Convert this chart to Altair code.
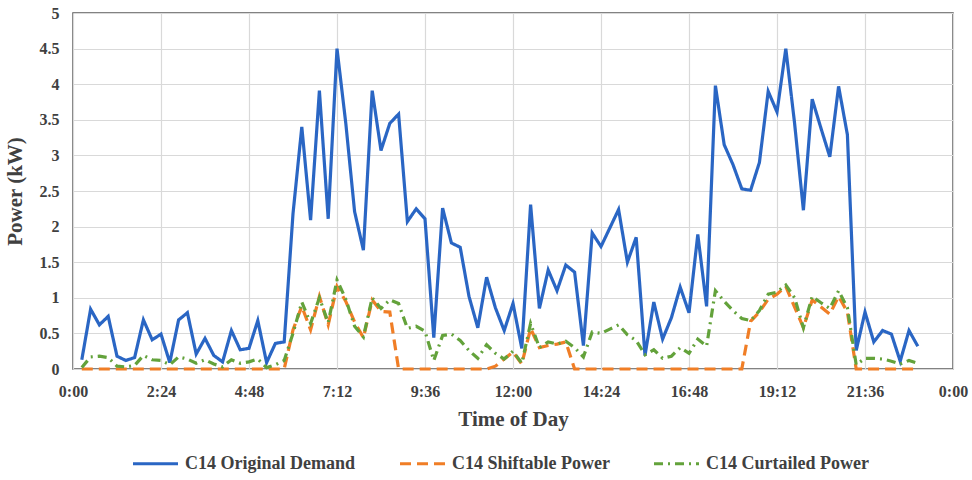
import altair as alt
import pandas as pd

# time of each reading (hours), 96 readings
hours = [round(i * 0.24, 2) for i in range(1, 97)]

original = [0.13, 0.84, 0.62, 0.74, 0.18, 0.12, 0.16, 0.69, 0.41, 0.49, 0.09, 0.69,
            0.79, 0.21, 0.43, 0.19, 0.10, 0.54, 0.27, 0.29, 0.68, 0.09, 0.36, 0.38,
            2.18, 3.40, 2.09, 3.91, 2.11, 4.50, 3.45, 2.21, 1.67, 3.91, 3.07, 3.45,
            3.58, 2.07, 2.25, 2.11, 0.44, 2.26, 1.77, 1.71, 1.02, 0.58, 1.29, 0.86,
            0.54, 0.92, 0.29, 2.31, 0.85, 1.39, 1.10, 1.46, 1.36, 0.33, 1.91, 1.72,
            1.98, 2.24, 1.50, 1.85, 0.19, 0.94, 0.42, 0.72, 1.15, 0.79, 1.89, 0.88,
            3.98, 3.15, 2.87, 2.53, 2.51, 2.90, 3.90, 3.61, 4.50, 3.45, 2.23, 3.79,
            3.38, 2.98, 3.97, 3.29, 0.26, 0.80, 0.38, 0.54, 0.49, 0.11, 0.54, 0.32]

shiftable = [0, 0, 0, 0, 0, 0, 0, 0, 0, 0, 0, 0,
             0, 0, 0, 0, 0, 0, 0, 0, 0, 0, 0, 0,
             0.55, 0.88, 0.55, 1.02, 0.62, 1.16, 0.95, 0.66, 0.44, 0.97, 0.81, 0.80,
             0, 0, 0, 0, 0, 0, 0, 0, 0, 0, 0, 0.04,
             0.14, 0.24, 0.07, 0.57, 0.30, 0.33, 0.35, 0.38, 0, 0, 0, 0,
             0, 0, 0, 0, 0, 0, 0, 0, 0, 0, 0, 0,
             0, 0, 0, 0, 0.67, 0.80, 0.98, 1.05, 1.16, 0.87, 0.58, 0.97,
             0.87, 0.77, 1.02, 0.80, 0, 0, 0, 0, 0, 0, 0, 0]

curtailed = [0.02, 0.17, 0.18, 0.16, 0.04, 0.03, 0.05, 0.19, 0.13, 0.12, 0.06, 0.17,
             0.14, 0.08, 0.13, 0.07, 0.03, 0.13, 0.08, 0.10, 0.14, 0.02, 0.06, 0.12,
             0.50, 0.94, 0.64, 1.00, 0.65, 1.25, 0.98, 0.60, 0.45, 1.00, 0.85, 0.97,
             0.92, 0.57, 0.60, 0.53, 0.12, 0.47, 0.49, 0.40, 0.26, 0.15, 0.34, 0.22,
             0.14, 0.25, 0.08, 0.64, 0.30, 0.38, 0.35, 0.39, 0.30, 0.17, 0.52, 0.50,
             0.56, 0.62, 0.48, 0.40, 0.20, 0.27, 0.15, 0.18, 0.30, 0.22, 0.42, 0.32,
             1.10, 0.95, 0.82, 0.71, 0.68, 0.82, 1.05, 1.08, 1.18, 1.00, 0.58, 1.02,
             0.93, 0.85, 1.10, 0.86, 0.06, 0.15, 0.15, 0.14, 0.11, 0.07, 0.12, 0.08]

series_names = ["C14 Original Demand", "C14 Shiftable Power", "C14 Curtailed Power"]
series_colors = ["#2A66C4", "#F07E26", "#63A23B"]
series_dashes = [[1, 0], [11, 6], [9, 5, 2, 5]]

x_ticks = [0, 2.4, 4.8, 7.2, 9.6, 12, 14.4, 16.8, 19.2, 21.6, 24]
y_ticks = [0, 0.5, 1, 1.5, 2, 2.5, 3, 3.5, 4, 4.5, 5]

rows = []
for s, vals in zip(series_names, [original, shiftable, curtailed]):
    for order, (h, v) in enumerate(zip(hours, vals)):
        rows.append({"series": s, "hour": h, "power": v, "order": order})
df = pd.DataFrame(rows)

FONT = "Liberation Serif"

label_expr = (
    "(floor(datum.value + 0.001) % 24) + ':' + "
    "(abs(round((datum.value - floor(datum.value + 0.001)) * 60)) < 10 ? '0' : '') + "
    "abs(round((datum.value - floor(datum.value + 0.001)) * 60))"
)

legend_kw = dict(title=None, orient="none", direction="horizontal",
                 legendX=58, legendY=426, columns=3,
                 symbolType="stroke", symbolSize=2025,
                 symbolStrokeWidth=3.2, labelFontSize=18, labelLimit=0,
                 labelOffset=5, columnPadding=37, padding=0)

chart = alt.Chart(df).mark_line(strokeWidth=3.2, strokeJoin="miter", strokeCap="butt").encode(
    x=alt.X("hour:Q",
            scale=alt.Scale(domain=[0, 24], nice=False, zero=False),
            axis=alt.Axis(title="Time of Day", values=x_ticks, labelExpr=label_expr,
                          grid=True, ticks=False, domain=False, labelPadding=14,
                          titlePadding=9, labelFontSize=16, titleFontSize=21,
                          labelFlush=False)),
    y=alt.Y("power:Q",
            scale=alt.Scale(domain=[0, 5], nice=False),
            axis=alt.Axis(title="Power (kW)", values=y_ticks, grid=True, ticks=False,
                          labelExpr="'' + datum.value",
                          domain=False, labelPadding=14, labelFontSize=16,
                          titleFontSize=21, titleX=-48, titleY=178)),
    color=alt.Color("series:N",
                    scale=alt.Scale(domain=series_names, range=series_colors),
                    sort=series_names,
                    legend=alt.Legend(**legend_kw)),
    strokeDash=alt.StrokeDash("series:N",
                              scale=alt.Scale(domain=series_names, range=series_dashes),
                              sort=series_names,
                              legend=alt.Legend(**legend_kw)),
    order="order:Q",
).properties(
    width=880, height=356,
    autosize=alt.AutoSizeParams(type="none"),
    padding={"left": 73, "top": 13, "right": 19, "bottom": 111},
).configure_view(
    stroke="#595959", strokeWidth=1.5
).configure_axis(
    labelFont=FONT, titleFont=FONT, labelFontWeight="bold", titleFontWeight="bold",
    labelColor="#404040", titleColor="#404040", gridColor="#D9D9D9", gridWidth=1.2
).configure_legend(
    labelFont=FONT, labelFontWeight="bold", labelColor="#404040"
)

chart.save("out.html", embed_options={"renderer": "svg", "actions": False})
